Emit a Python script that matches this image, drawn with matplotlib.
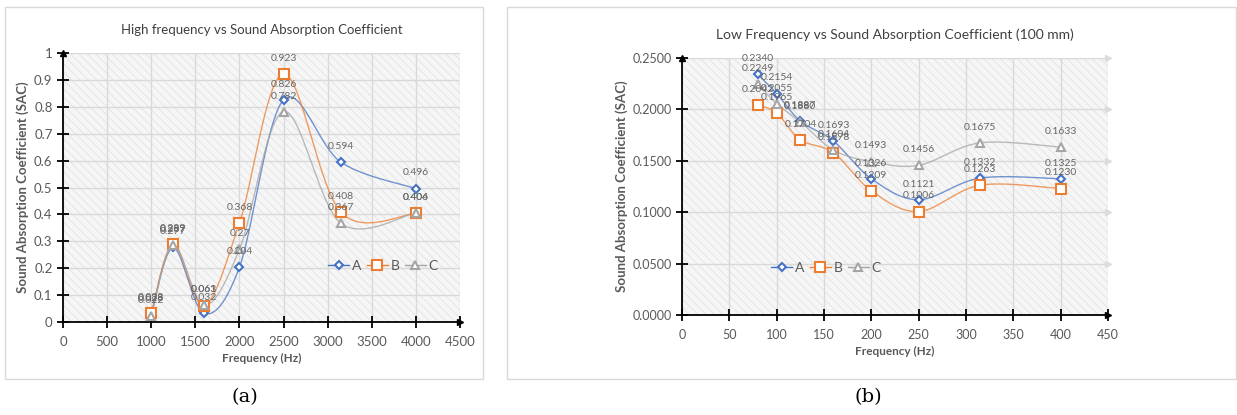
import numpy as np
import matplotlib
matplotlib.use("Agg")
import matplotlib.pyplot as plt
import matplotlib.transforms as mtransforms
from matplotlib.lines import Line2D
from matplotlib.patches import Rectangle

plt.rcParams['font.family'] = ['Lato', 'DejaVu Sans']
plt.rcParams['hatch.color'] = '#e2e2e2'
plt.rcParams['hatch.linewidth'] = 0.6

# (a) high frequency
hf_freq = [1000, 1250, 1600, 2000, 2500, 3150, 4000]
hf_a = [0.028, 0.277, 0.032, 0.204, 0.826, 0.594, 0.496]
hf_b = [0.033, 0.289, 0.061, 0.368, 0.923, 0.408, 0.404]
hf_c = [0.022, 0.287, 0.063, 0.27, 0.782, 0.367, 0.406]

# (b) low frequency
lf_freq = [80, 100, 125, 160, 200, 250, 315, 400]
lf_a = [0.2340, 0.2154, 0.1887, 0.1693, 0.1326, 0.1121, 0.1332, 0.1325]
lf_b = [0.2042, 0.1965, 0.1704, 0.1578, 0.1209, 0.1006, 0.1263, 0.1230]
lf_c = [0.2249, 0.2055, 0.1880, 0.1604, 0.1493, 0.1456, 0.1675, 0.1633]

COLORS = {'A': '#4472C4', 'B': '#ED7D31', 'C': '#A5A5A5'}
MARKERS = {'A': 'D', 'B': 's', 'C': '^'}
MSIZE = {'A': 4.5, 'B': 6.5, 'C': 6}
TXT = '#595959'


def smooth(x, y, n=40):
    # excel-like smoothed line (catmull-rom through the points)
    p = np.column_stack([x, y]).astype(float)
    p = np.vstack([p[0], p, p[-1]])
    out = []
    t = np.linspace(0, 1, n)[:, None]
    for i in range(1, len(p) - 2):
        p0, p1, p2, p3 = p[i - 1], p[i], p[i + 1], p[i + 2]
        c1 = p1 + (p2 - p0) / 6
        c2 = p2 - (p3 - p1) / 6
        seg = ((1 - t) ** 3) * p1 + 3 * ((1 - t) ** 2) * t * c1 + 3 * (1 - t) * t ** 2 * c2 + t ** 3 * p2
        out.append(seg)
    out = np.vstack(out)
    return out[:, 0], out[:, 1]


def draw(ax, freq, series, fmt, xlim, ylim, xstep, ystep, yfmt, title, leg_pos,
         tick_size=9, title_size=10, grid_arrows=False):
    ax.set_facecolor('#f6f6f6')
    ax.add_patch(Rectangle((0, 0), 1, 1, transform=ax.transAxes, facecolor='none',
                           edgecolor='#e2e2e2', hatch='\\\\\\\\', lw=0, zorder=0))
    ax.set_xlim(*xlim)
    ax.set_ylim(*ylim)
    ax.set_xticks(np.arange(xlim[0], xlim[1] + 1e-9, xstep))
    yt = np.arange(ylim[0], ylim[1] + 1e-9, ystep)
    ax.set_yticks(yt)
    ax.yaxis.set_major_formatter(yfmt)
    ax.grid(True, color='#d9d9d9', lw=1)
    ax.set_axisbelow(True)
    for s in ['top', 'right']:
        ax.spines[s].set_visible(False)
    for s in ['left', 'bottom']:
        ax.spines[s].set_color('black')
        ax.spines[s].set_linewidth(1.3)
    ax.tick_params(direction='inout', length=8, width=1.3, color='black',
                   labelcolor=TXT, labelsize=tick_size)
    ax.tick_params(axis='x', pad=6)
    ax.plot(1, 0, '>', color='black', ms=5, transform=ax.transAxes, clip_on=False)
    ax.plot(0, 1, '^', color='black', ms=5, transform=ax.transAxes, clip_on=False)
    if grid_arrows:
        tr = mtransforms.blended_transform_factory(ax.transAxes, ax.transData)
        ax.plot([1] * (len(yt) - 1), yt[1:], ls='none', marker='>', ms=4,
                color='#dcdcdc', transform=tr, clip_on=False, zorder=1)

    handles = []
    for name, vals in series:
        col = COLORS[name]
        sx, sy = smooth(freq, vals)
        ax.plot(sx, sy, color=col, lw=1, alpha=0.75, zorder=2)
        ax.plot(freq, vals, ls='none', marker=MARKERS[name], ms=MSIZE[name],
                mfc='white', mec=col, mew=1.5, zorder=3)
        for fx, v in zip(freq, vals):
            ax.annotate(fmt.format(v), (fx, v), xytext=(0, 8), textcoords='offset points',
                        ha='center', va='bottom', fontsize=7.5, color='#666666', zorder=4)
        handles.append(Line2D([], [], color=col, lw=1, marker=MARKERS[name],
                              ms=MSIZE[name], mfc='white', mec=col, mew=1.5, label=name))
    ax.legend(handles=handles, loc='center', bbox_to_anchor=leg_pos, ncol=3,
              frameon=False, handlelength=1.5, handletextpad=0.2, columnspacing=0.4,
              labelcolor=TXT, fontsize=10)
    ax.set_title(title, fontsize=title_size, color='#404040', pad=14)
    ax.set_xlabel('Frequency (Hz)', fontsize=8.5, fontweight='bold', color=TXT)
    ax.set_ylabel('Sound Absorption Coefficient (SAC)', fontsize=9.5,
                  fontweight='bold', color=TXT)


fig = plt.figure(figsize=(12.37, 4.15), dpi=100)
W, H = 1237.0, 415.0

# panel frames
fig.patches.append(Rectangle((5 / W, 1 - 379 / H), 478 / W, 372 / H, transform=fig.transFigure,
                             fill=False, edgecolor='#d9d9d9', lw=1))
fig.patches.append(Rectangle((507 / W, 1 - 379 / H), 729 / W, 372 / H, transform=fig.transFigure,
                             fill=False, edgecolor='#d9d9d9', lw=1))

ax1 = fig.add_axes([63 / W, 1 - 322 / H, 397 / W, 269 / H])
draw(ax1, hf_freq, [('A', hf_a), ('B', hf_b), ('C', hf_c)], '{:g}',
     (0, 4500), (0, 1), 500, 0.1, plt.FuncFormatter(lambda v, p: '{:g}'.format(round(v, 1))),
     'High frequency vs Sound Absorption Coefficient', (0.806, 0.21), tick_size=9.5,
     title_size=9.5)
ax1.yaxis.labelpad = 4

ax2 = fig.add_axes([682 / W, 1 - 315 / H, 426 / W, 257 / H])
draw(ax2, lf_freq, [('A', lf_a), ('B', lf_b), ('C', lf_c)], '{:.4f}',
     (0, 450), (0, 0.25), 50, 0.05, plt.FuncFormatter(lambda v, p: '{:.4f}'.format(v)),
     'Low Frequency vs Sound Absorption Coefficient (100 mm)', (0.338, 0.183),
     tick_size=9, title_size=10, grid_arrows=True)
ax2.yaxis.labelpad = 3

fig.text(245 / W, 1 - 397 / H, '(a)', ha='center', va='center', fontsize=14, family='DejaVu Serif')
fig.text(868 / W, 1 - 397 / H, '(b)', ha='center', va='center', fontsize=14, family='DejaVu Serif')

fig.savefig('out.png', dpi=100)
